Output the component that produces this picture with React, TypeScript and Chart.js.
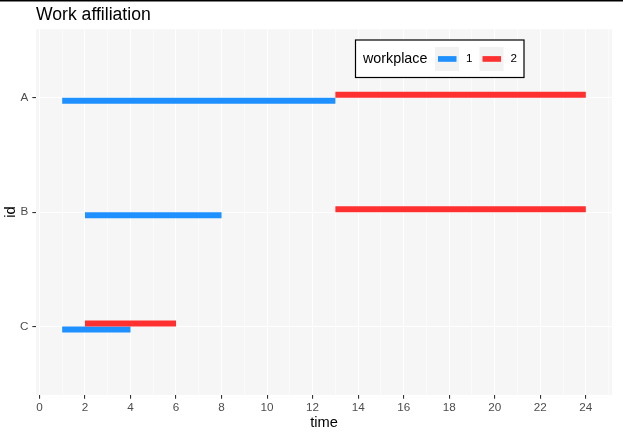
import React, { useEffect, useRef } from "react";
import { Chart, registerables } from "chart.js";

Chart.register(...registerables);

const ids = ["A", "B", "C"];
const workplaces = ["1", "2"];
const wp1Start = [1, 2, 1];
const wp1End = [13, 8, 4];
const wp2Start = [13, 13, 2];
const wp2End = [24, 24, 6];
const xTicks = [0, 2, 4, 6, 8, 10, 12, 14, 16, 18, 20, 22, 24];

const BLUE = "#1E90FF";
const RED = "#FF3030";
const FONT = "'Liberation Sans', Arial, sans-serif";

const decorPlugin = {
  id: "decor",
  beforeDraw(chart: any) {
    const { ctx, chartArea } = chart;
    ctx.save();
    ctx.fillStyle = "#ffffff";
    ctx.fillRect(0, 0, chart.width, chart.height);
    ctx.fillStyle = "#F6F6F6";
    ctx.fillRect(chartArea.left, chartArea.top, chartArea.right - chartArea.left, chartArea.bottom - chartArea.top);
    ctx.restore();
  },
  afterDraw(chart: any) {
    const { ctx, chartArea } = chart;
    ctx.save();
    // top border line
    ctx.fillStyle = "#000000";
    ctx.fillRect(0, 0, chart.width, 1.5);
    // title
    ctx.fillStyle = "#000000";
    ctx.font = `17.6px ${FONT}`;
    ctx.textBaseline = "alphabetic";
    ctx.textAlign = "left";
    ctx.fillText("Work affiliation", chartArea.left, 20);
    // legend
    const bx = 355.5, by = 40, bw = 168.5, bh = 37.5;
    ctx.fillStyle = "#ffffff";
    ctx.fillRect(bx, by, bw, bh);
    ctx.strokeStyle = "#000000";
    ctx.lineWidth = 1.2;
    ctx.strokeRect(bx, by, bw, bh);
    const cy = by + bh / 2 + 0.2;
    ctx.fillStyle = "#000000";
    ctx.font = `14.3px ${FONT}`;
    ctx.textBaseline = "middle";
    ctx.fillText("workplace", 363, cy);
    const keys = [
      { x: 435, color: BLUE, label: workplaces[0] },
      { x: 479.5, color: RED, label: workplaces[1] },
    ];
    for (const k of keys) {
      ctx.fillStyle = "#F2F2F2";
      ctx.fillRect(k.x, cy - 12, 24, 24);
      ctx.strokeStyle = k.color;
      ctx.lineWidth = 5.7;
      ctx.lineCap = "butt";
      ctx.beginPath();
      ctx.moveTo(k.x + 3, cy);
      ctx.lineTo(k.x + 21.5, cy);
      ctx.stroke();
      ctx.fillStyle = "#000000";
      ctx.font = `11.7px ${FONT}`;
      ctx.fillText(k.label, k.x + 31, cy);
    }
    ctx.restore();
  },
};

export default function App() {
  const ref = useRef<HTMLCanvasElement | null>(null);
  useEffect(() => {
    document.body.style.margin = "0";
    if (!ref.current) return;
    const red = ids.map((_, i) => ({ x: [wp2Start[i], wp2End[i]], y: i }));
    const blue = ids.map((_, i) => ({ x: [wp1Start[i], wp1End[i]], y: i }));
    const isMajor = (v: number) => xTicks.includes(v);
    const chart = new Chart(ref.current, {
      type: "bar",
      data: {
        datasets: [
          { label: workplaces[1], data: red as any, backgroundColor: RED, borderWidth: 0, barThickness: 6, inflateAmount: 0 } as any,
          { label: workplaces[0], data: blue as any, backgroundColor: BLUE, borderWidth: 0, barThickness: 6, inflateAmount: 0 } as any,
        ],
      },
      options: {
        indexAxis: "y",
        responsive: false,
        animation: false,
        devicePixelRatio: 1,
        layout: { padding: { top: 29.3, right: 11, bottom: 0, left: 0 } },
        plugins: { legend: { display: false }, tooltip: { enabled: false }, title: { display: false } },
        scales: {
          x: {
            type: "linear",
            min: -0.15,
            max: 25.15,
            offset: false,
            border: { display: false },
            grid: {
              offset: false,
              color: "#ffffff",
              lineWidth: (c: any) => (c.tick && c.tick.value % 2 === 0 ? 1.1 : 0.55),
              tickColor: (c: any) => (c.tick && isMajor(c.tick.value) ? "#333333" : "rgba(0,0,0,0)"),
              tickLength: 3.67,
              tickWidth: 1.1,
            } as any,
            ticks: {
              stepSize: 1,
              includeBounds: false,
              autoSkip: false,
              maxRotation: 0,
              padding: 2,
              color: "#4D4D4D",
              font: { family: FONT, size: 11.7 },
              callback: (v: any) => (isMajor(Number(v)) ? String(v) : ""),
            },
            title: {
              display: true,
              text: "time",
              color: "#000000",
              font: { family: FONT, size: 14.67 },
              padding: { top: 0, bottom: 4.5 },
            },
            afterFit: (s: any) => {
              s.height = 41;
            },
          },
          y: {
            type: "linear",
            reverse: true,
            min: -0.6,
            max: 2.6,
            offset: false,
            border: { display: false },
            grid: {
              offset: false,
              color: "#ffffff",
              lineWidth: 1.1,
              tickColor: "#333333",
              tickLength: 3.67,
              tickWidth: 1.1,
            } as any,
            ticks: {
              stepSize: 1,
              includeBounds: false,
              autoSkip: false,
              padding: 4,
              color: "#4D4D4D",
              font: { family: FONT, size: 11.7 },
              callback: (v: any) => ids[Number(v)] ?? "",
            },
            title: {
              display: true,
              text: "id",
              color: "#000000",
              font: { family: FONT, size: 14.67 },
              padding: { top: 2, bottom: 0 },
            },
            afterFit: (s: any) => {
              s.width = 36;
            },
          },
        },
      } as any,
      plugins: [decorPlugin],
    });
    return () => chart.destroy();
  }, []);
  return (
    <div style={{ position: "fixed", left: 0, top: 0, width: 623, height: 436 }}>
      <canvas ref={ref} width={623} height={436} style={{ width: 623, height: 436, display: "block" }} />
    </div>
  );
}
